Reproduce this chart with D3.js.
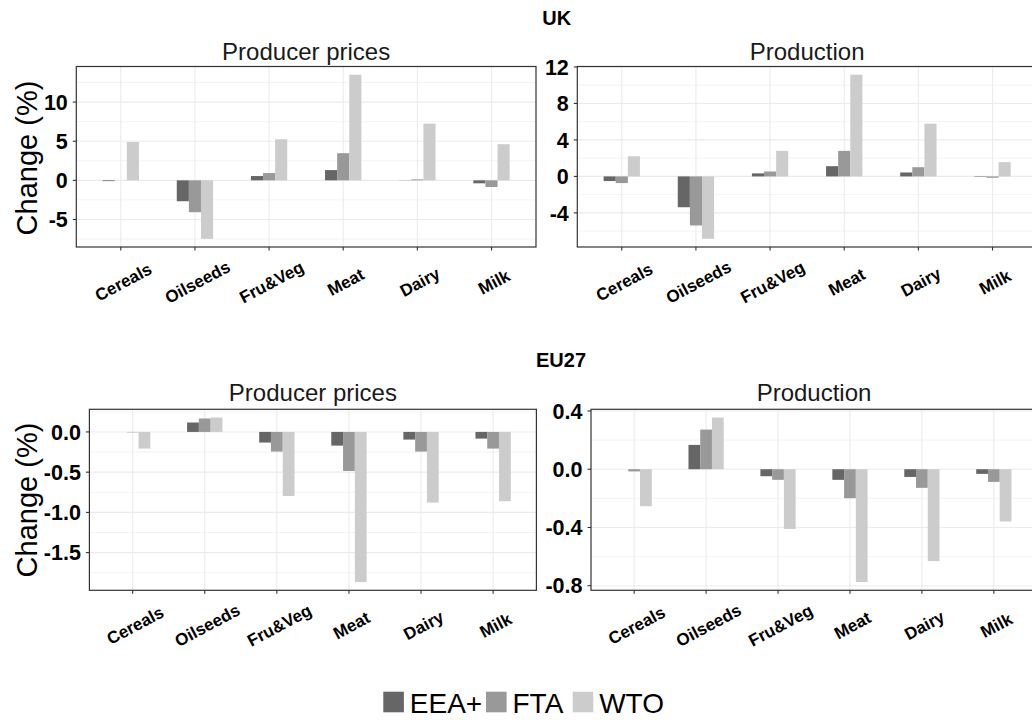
<!DOCTYPE html>
<html>
<head>
<meta charset="utf-8">
<script src="https://cdn.jsdelivr.net/npm/d3@7"></script>
<style>
  html, body { margin: 0; padding: 0; background: #fff; }
  svg { display: block; }
  text { font-family: "Liberation Sans", Arial, sans-serif; }
</style>
</head>
<body>
<svg id="chart" width="1032" height="720"></svg>
<script>
// ---------- data ----------
const categories = ["Cereals", "Oilseeds", "Fru&Veg", "Meat", "Dairy", "Milk"];
const scenarios = ["EEA+", "FTA", "WTO"];
const scenarioColors = ["#666666", "#999999", "#cccccc"];

// UK producer prices (% change), per scenario
const ukPricesEEA = [-0.1, -2.67, 0.55, 1.31, 0.02, -0.38];
const ukPricesFTA = [0.0, -4.07, 0.93, 3.47, 0.12, -0.85];
const ukPricesWTO = [4.9, -7.47, 5.25, 13.5, 7.25, 4.62];

// UK production
const ukProdEEA = [-0.51, -3.38, 0.33, 1.12, 0.43, -0.05];
const ukProdFTA = [-0.73, -5.38, 0.54, 2.8, 1.01, -0.15];
const ukProdWTO = [2.21, -6.84, 2.8, 11.15, 5.78, 1.56];

// EU27 producer prices
const euPricesEEA = [0.0, 0.117, -0.132, -0.17, -0.095, -0.083];
const euPricesFTA = [-0.005, 0.167, -0.244, -0.485, -0.244, -0.207];
const euPricesWTO = [-0.207, 0.179, -0.796, -1.866, -0.878, -0.861];

// EU27 production
const euProdEEA = [0.0, 0.167, -0.048, -0.073, -0.053, -0.032];
const euProdFTA = [-0.015, 0.272, -0.073, -0.199, -0.128, -0.087];
const euProdWTO = [-0.254, 0.355, -0.41, -0.775, -0.631, -0.359];

// tick values / labels
const ukPricesTicks = [-5, 0, 5, 10];
const ukPricesTickLabels = ["-5", "0", "5", "10"];
const ukPricesMinor = [-7.5, -2.5, 2.5, 7.5, 12.5];
const ukProdTicks = [-4, 0, 4, 8, 12];
const ukProdTickLabels = ["-4", "0", "4", "8", "12"];
const ukProdMinor = [-6, -2, 2, 6, 10];
const euPricesTicks = [-1.5, -1.0, -0.5, 0.0];
const euPricesTickLabels = ["-1.5", "-1.0", "-0.5", "0.0"];
const euPricesMinor = [-1.75, -1.25, -0.75, -0.25, 0.25];
const euProdTicks = [-0.8, -0.4, 0.0, 0.4];
const euProdTickLabels = ["-0.8", "-0.4", "0.0", "0.4"];
const euProdMinor = [-0.6, -0.2, 0.2];

const regionTitles = ["UK", "EU27"];
const panelTitles = ["Producer prices", "Production"];
const yTitle = "Change (%)";

// ---------- layout ----------
const svg = d3.select("#chart");
const FONT = "'Liberation Sans', Arial, sans-serif";

const panels = [
  { x0: 76.3, x1: 536, y0: 66.5, y1: 247, title: panelTitles[0], titleY: 60,
    series: [ukPricesEEA, ukPricesFTA, ukPricesWTO], ticks: ukPricesTicks, labels: ukPricesTickLabels, minor: ukPricesMinor },
  { x0: 577.3, x1: 1037, y0: 66.5, y1: 247, title: panelTitles[1], titleY: 60,
    series: [ukProdEEA, ukProdFTA, ukProdWTO], ticks: ukProdTicks, labels: ukProdTickLabels, minor: ukProdMinor },
  { x0: 89.4, x1: 536.4, y0: 409.3, y1: 590.3, title: panelTitles[0], titleY: 401,
    series: [euPricesEEA, euPricesFTA, euPricesWTO], ticks: euPricesTicks, labels: euPricesTickLabels, minor: euPricesMinor },
  { x0: 591, x1: 1037, y0: 409.3, y1: 590.3, title: panelTitles[1], titleY: 401,
    series: [euProdEEA, euProdFTA, euProdWTO], ticks: euProdTicks, labels: euProdTickLabels, minor: euProdMinor }
];

panels.forEach(p => {
  const g = svg.append("g");
  const all = p.series.flat().concat([0]);
  const mn = d3.min(all), mx = d3.max(all), pad = (mx - mn) * 0.05;
  const y = d3.scaleLinear().domain([mn - pad, mx + pad]).range([p.y1, p.y0]);
  const x = d3.scalePoint().domain(categories).range([p.x0, p.x1]).padding(0.6);
  const step = x.step();
  const xs = d3.scaleBand().domain(scenarios).range([-0.245 * step, 0.245 * step]);

  // background
  g.append("rect").attr("x", p.x0).attr("y", p.y0).attr("width", p.x1 - p.x0).attr("height", p.y1 - p.y0).attr("fill", "#fff");

  // minor grid
  g.selectAll(".minor").data(p.minor).join("line")
    .attr("x1", p.x0).attr("x2", p.x1).attr("y1", d => y(d)).attr("y2", d => y(d))
    .attr("stroke", "#ebebeb").attr("stroke-width", 0.6);
  // major grid
  g.selectAll(".majorY").data(p.ticks).join("line")
    .attr("x1", p.x0).attr("x2", p.x1).attr("y1", d => y(d)).attr("y2", d => y(d))
    .attr("stroke", "#ebebeb").attr("stroke-width", 1.1);
  g.selectAll(".majorX").data(categories).join("line")
    .attr("x1", d => x(d)).attr("x2", d => x(d)).attr("y1", p.y0).attr("y2", p.y1)
    .attr("stroke", "#ebebeb").attr("stroke-width", 1.1);

  // bars
  scenarios.forEach((s, si) => {
    g.selectAll(".bar" + si).data(categories).join("rect")
      .attr("x", d => x(d) + xs(s))
      .attr("width", xs.bandwidth())
      .attr("y", (d, i) => Math.min(y(p.series[si][i]), y(0)))
      .attr("height", (d, i) => Math.abs(y(p.series[si][i]) - y(0)))
      .attr("fill", scenarioColors[si]);
  });

  // border
  g.append("rect").attr("x", p.x0).attr("y", p.y0).attr("width", p.x1 - p.x0).attr("height", p.y1 - p.y0)
    .attr("fill", "none").attr("stroke", "#333333").attr("stroke-width", 1.2);

  // y ticks
  g.selectAll(".yt").data(p.ticks).join("line")
    .attr("x1", p.x0 - 3.5).attr("x2", p.x0).attr("y1", d => y(d)).attr("y2", d => y(d))
    .attr("stroke", "#333333").attr("stroke-width", 1.1);
  g.selectAll(".yl").data(p.ticks).join("text")
    .attr("x", p.x0 - 8.5).attr("y", d => y(d)).attr("dy", "0.36em")
    .attr("text-anchor", "end").attr("font-size", 21.5).attr("font-weight", "bold").attr("fill", "#000")
    .text((d, i) => p.labels[i]);

  // x ticks
  g.selectAll(".xt").data(categories).join("line")
    .attr("x1", d => x(d)).attr("x2", d => x(d)).attr("y1", p.y1).attr("y2", p.y1 + 3.5)
    .attr("stroke", "#333333").attr("stroke-width", 1.1);
  g.selectAll(".xl").data(categories).join("text")
    .attr("transform", d => `translate(${x(d) + 2.5},${p.y1 + 35}) rotate(-28)`)
    .attr("text-anchor", "middle").attr("dy", "0.35em")
    .attr("font-size", 17).attr("font-weight", "bold").attr("fill", "#000")
    .text(d => d);

  // panel title
  g.append("text").attr("x", (p.x0 + p.x1) / 2).attr("y", p.titleY)
    .attr("text-anchor", "middle").attr("font-size", 24).attr("fill", "#1a1a1a").text(p.title);
});

// region titles
svg.append("text").attr("x", 556.7).attr("y", 25).attr("text-anchor", "middle")
  .attr("font-size", 20).attr("font-weight", "bold").text(regionTitles[0]);
svg.append("text").attr("x", 561).attr("y", 367).attr("text-anchor", "middle")
  .attr("font-size", 20).attr("font-weight", "bold").text(regionTitles[1]);

// y titles
[[37, 158], [37, 500]].forEach(([tx, ty]) => {
  svg.append("text").attr("transform", `translate(${tx},${ty}) rotate(-90)`)
    .attr("text-anchor", "middle").attr("font-size", 29).attr("fill", "#000").text(yTitle);
});

// legend
const legendKeyX = [383.3, 486, 572.7];
const lg = svg.append("g");
scenarios.forEach((s, i) => {
  lg.append("rect").attr("x", legendKeyX[i]).attr("y", 691.7).attr("width", 20.6).attr("height", 20.6)
    .attr("fill", scenarioColors[i]);
  lg.append("text").attr("x", legendKeyX[i] + 26.5).attr("y", 713.3)
    .attr("font-size", 28).attr("fill", "#000").text(s);
});
</script>
</body>
</html>
